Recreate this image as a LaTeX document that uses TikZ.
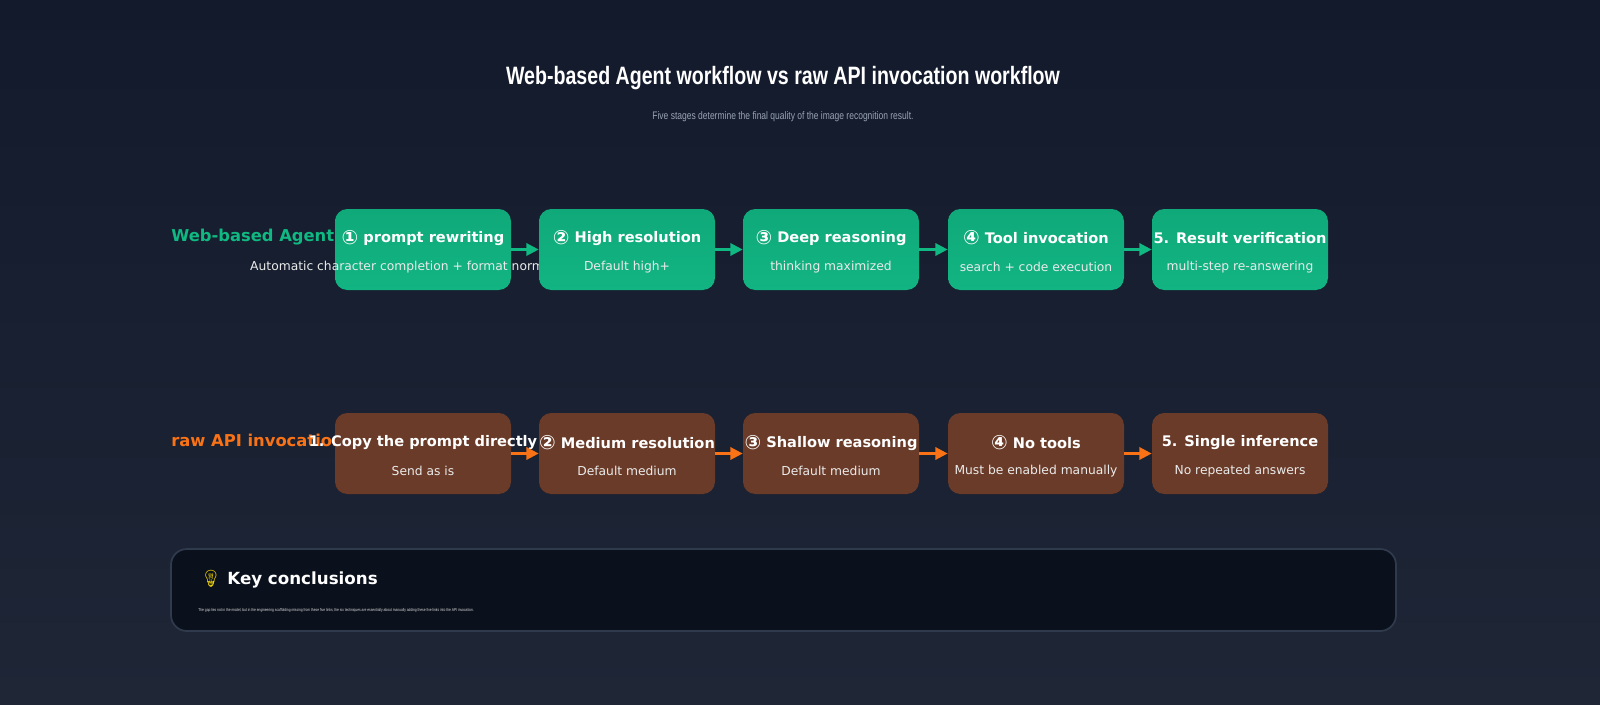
\documentclass[tikz,border=0pt]{standalone}
\usepackage{fontspec}
\setmainfont{DejaVu Sans}
\newfontfamily\narrowfont[FakeStretch=0.78]{Liberation Sans}
\newfontfamily\emojifont{Noto Emoji}
\usetikzlibrary{arrows.meta,positioning}
\definecolor{bgtop}{HTML}{121A2C}
\definecolor{bgbot}{HTML}{1F2636}
\definecolor{webgreen}{HTML}{10A97A}
\definecolor{webgreenlight}{HTML}{12B482}
\definecolor{apibrown}{HTML}{6A3B28}
\definecolor{apiorange}{HTML}{F97316}
\definecolor{labelgreen}{HTML}{10B981}
\definecolor{notefill}{HTML}{0B111C}
\definecolor{noteline}{HTML}{2F3A4C}
\definecolor{subgrey}{HTML}{9AA3B2}
\newcommand{\stagenum}[1]{\raisebox{-0.12em}{\scalebox{1.35}{\char"#1}}}
\tikzset{
  stagebox/.style={rounded corners=7pt,minimum width=176*0.02cm,minimum height=81*0.02cm,inner sep=0pt},
  webbox/.style={stagebox,top color=webgreen,bottom color=webgreenlight,draw=none},
  apibox/.style={stagebox,fill=apibrown,draw=none},
  headtext/.style={text=white,font=\bfseries\fontsize{8.3}{10}\selectfont,inner sep=0pt},
  subtext/.style={text=white!92!black,font=\fontsize{7}{9}\selectfont,inner sep=0pt},
  webflow/.style={draw=labelgreen,line width=1.4pt,-{Triangle[length=7pt,width=7pt]}},
  apiflow/.style={draw=apiorange,line width=1.4pt,-{Triangle[length=7pt,width=7pt]}}
}
\begin{document}
\begin{tikzpicture}[x=0.02cm,y=-0.02cm]
\useasboundingbox (0,0) rectangle (1600,704);
\shade[top color=bgtop,bottom color=bgbot] (0,0) rectangle (1600,704);
% heading
\node[text=white,font=\narrowfont\bfseries\fontsize{14.3}{17}\selectfont] (title) at (783,78) {Web-based Agent workflow vs raw API invocation workflow};
\node[text=subgrey,font=\narrowfont\fontsize{6.2}{8}\selectfont] (subtitle) at (783,117) {Five stages determine the final quality of the image recognition result.};
% row labels
\node[anchor=west,text=labelgreen,font=\bfseries\fontsize{9.3}{11}\selectfont,inner sep=0pt] (weblabel) at (171,237) {Web-based Agent workflow};
\node[anchor=west,text=apiorange,font=\bfseries\fontsize{9.3}{11}\selectfont,inner sep=0pt] (apilabel) at (171,440) {raw API invocation workflow};
% web row
\foreach \i/\x/\head/\sub in {1/423/{\stagenum{2460} prompt rewriting}/{Automatic character completion + format normalization},
  2/627/{\stagenum{2461} High resolution}/{Default high+},
  3/831/{\stagenum{2462} Deep reasoning}/{thinking maximized},
  4/1036/{\stagenum{2463} Tool invocation}/{search + code execution},
  5/1240/{5. Result verification}/{multi-step re-answering}}{
  \node[webbox] (g\i) at (\x,249.5) {};
  \node[headtext] (gh\i) at (\x,238) {\head};
  \node[subtext] (gs\i) at (\x,267) {\sub};
}
% api row
\foreach \i/\x/\head/\sub in {1/423/{1. Copy the prompt directly}/{Send as is},
  2/627/{\stagenum{2461} Medium resolution}/{Default medium},
  3/831/{\stagenum{2462} Shallow reasoning}/{Default medium},
  4/1036/{\stagenum{2463} No tools}/{Must be enabled manually},
  5/1240/{5. Single inference}/{No repeated answers}}{
  \node[apibox] (a\i) at (\x,453.5) {};
  \node[headtext] (ah\i) at (\x,443) {\head};
  \node[subtext] (as\i) at (\x,471) {\sub};
}
\foreach \i/\j in {1/2,2/3,3/4,4/5}{
  \draw[webflow] (g\i.east) -- (g\j.west);
  \draw[apiflow] (a\i.east) -- (a\j.west);
}
% conclusion panel
\node[draw=noteline,line width=1pt,fill=notefill,rounded corners=9pt,minimum width=1225*0.02cm,minimum height=82*0.02cm,inner sep=0pt] (note) at (783.5,590) {};
\node[anchor=west,text=white,font=\bfseries\fontsize{9.5}{11}\selectfont,inner sep=0pt] (notehead) at (200,579) {{\emojifont\color{yellow!80!orange}💡}\ Key conclusions};
\node[anchor=west,text=white!85!black,font=\narrowfont\fontsize{2.4}{3}\selectfont,inner sep=0pt] (notetext) at (198,610) {The gap lies not in the model, but in the engineering scaffolding missing from these five links; the six techniques are essentially about manually adding these five links into the API invocation.};
\end{tikzpicture}
\end{document}
